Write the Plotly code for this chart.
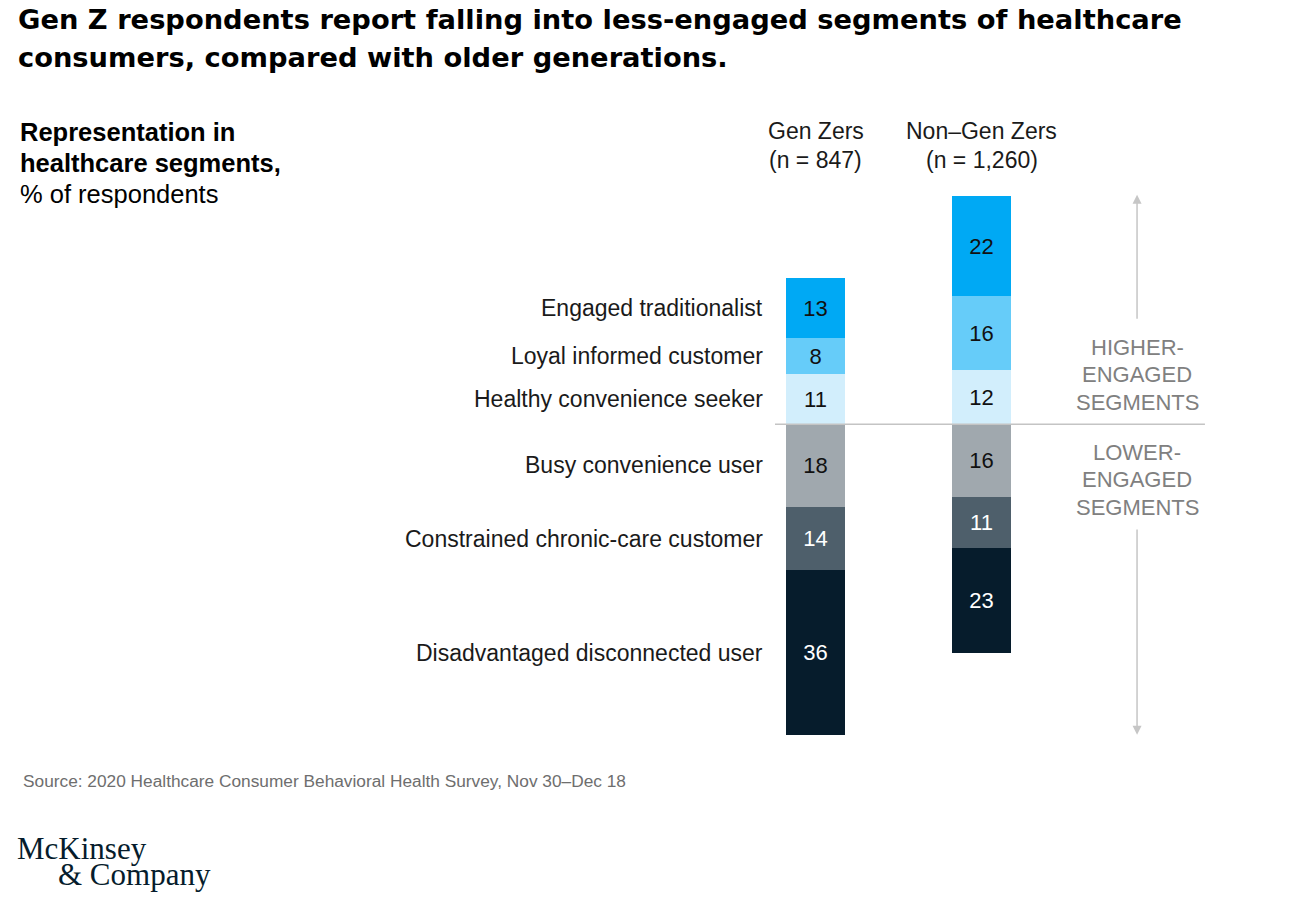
import plotly.graph_objects as go

# data
segments = [
    "Healthy convenience seeker",
    "Loyal informed customer",
    "Engaged traditionalist",
    "Busy convenience user",
    "Constrained chronic-care customer",
    "Disadvantaged disconnected user",
]
higher = [True, True, True, False, False, False]
gen_z = [11, 8, 13, 18, 14, 36]
non_gen_z = [12, 16, 22, 16, 11, 23]
groups = ["Gen Zers<br>(n = 847)", "Non\u2013Gen Zers<br>(n = 1,260)"]
colors = ["#D2EEFC", "#66CCF9", "#00A9F4", "#A0A8AE", "#4E5F6B", "#061C2C"]
text_colors = ["#111111", "#111111", "#111111", "#111111", "#FFFFFF", "#FFFFFF"]

# page has an 8px body margin, so the figure is a bit smaller than the window
OFF = 8
W, H = 1278, 885
M = dict(l=0, r=0, t=188, b=149)
FONT = "Liberation Sans"


def px(x):
    return (x - OFF) / W


def py(y):
    return (H - M["b"] - (y - OFF)) / (H - M["t"] - M["b"])


fig = go.Figure()
for i, seg in enumerate(segments):
    sign = 1 if higher[i] else -1
    vals = [gen_z[i], non_gen_z[i]]
    fig.add_trace(go.Bar(
        x=[0, 1], y=[sign * v for v in vals],
        text=[str(v) for v in vals], textposition="inside",
        insidetextanchor="middle", textangle=0,
        textfont=dict(size=22, color=text_colors[i], family=FONT),
        marker=dict(color=colors[i], line=dict(width=0)),
        width=0.355, name=seg, showlegend=False, hoverinfo="skip",
    ))

annotations = []

# segment labels next to the Gen Z bar
cum_pos, cum_neg = 0, 0
for i, seg in enumerate(segments):
    if higher[i]:
        mid = cum_pos + gen_z[i] / 2
        cum_pos += gen_z[i]
    else:
        mid = -(cum_neg + gen_z[i] / 2)
        cum_neg += gen_z[i]
    annotations.append(dict(
        x=-0.1775, y=mid, xref="x", yref="y", xanchor="right", yanchor="middle",
        xshift=-21, text=seg, showarrow=False,
        font=dict(size=23, color="#1a1a1a", family=FONT)))

# column headers
for j, g in enumerate(groups):
    a, b = g.split("<br>")
    annotations.append(dict(x=j, y=py(131), xref="x", yref="paper", text=a, showarrow=False,
                            yanchor="middle", font=dict(size=23, color="#1a1a1a", family=FONT)))
    annotations.append(dict(x=j, y=py(160), xref="x", yref="paper", text=b, showarrow=False,
                            yanchor="middle", font=dict(size=23, color="#1a1a1a", family=FONT)))

# engagement side text
grey = "#808080"
for k, t in enumerate(["HIGHER-", "ENGAGED", "SEGMENTS"]):
    annotations.append(dict(x=1.937, y=py(347 + 27.5 * k), xref="x", yref="paper", text=t,
                            showarrow=False, yanchor="middle",
                            font=dict(size=22, color=grey, family=FONT)))
for k, t in enumerate(["LOWER-", "ENGAGED", "SEGMENTS"]):
    annotations.append(dict(x=1.937, y=py(452 + 27.5 * k), xref="x", yref="paper", text=t,
                            showarrow=False, yanchor="middle",
                            font=dict(size=22, color=grey, family=FONT)))

# arrows
annotations.append(dict(x=1.937, y=50.3, ax=1.937, ay=22.8, xref="x", yref="y",
                        axref="x", ayref="y", text="", showarrow=True, arrowhead=2,
                        arrowsize=1.2, arrowwidth=1.5, arrowcolor="#c6c6c6"))
annotations.append(dict(x=1.937, y=-68, ax=1.937, ay=-22.7, xref="x", yref="y",
                        axref="x", ayref="y", text="", showarrow=True, arrowhead=2,
                        arrowsize=1.2, arrowwidth=1.5, arrowcolor="#c6c6c6"))

# title
for k, t in enumerate(["Gen Z respondents report falling into less-engaged segments of healthcare",
                       "consumers, compared with older generations."]):
    annotations.append(dict(x=px(17), y=py(20 + 38 * k), xref="paper", yref="paper", text="<b>%s</b>" % t,
                            showarrow=False, xanchor="left", yanchor="middle", borderpad=0,
                            font=dict(size=27.3, color="#000000", family="DejaVu Sans")))

# subtitle
for k, t in enumerate(["<b>Representation in</b>", "<b>healthcare segments,</b>", "% of respondents"]):
    annotations.append(dict(x=px(18), y=py(132 + 31 * k), xref="paper", yref="paper", text=t,
                            showarrow=False, xanchor="left", yanchor="middle",
                            font=dict(size=25.5, color="#000000", family=FONT)))

# source
annotations.append(dict(x=px(21), y=py(781), xref="paper", yref="paper",
                        text="Source: 2020 Healthcare Consumer Behavioral Health Survey, Nov 30\u2013Dec 18",
                        showarrow=False, xanchor="left", yanchor="middle",
                        font=dict(size=17.3, color="#6e6e6e", family=FONT)))

# logo
annotations.append(dict(x=px(16), y=py(848), xref="paper", yref="paper", text="McKinsey",
                        showarrow=False, xanchor="left", yanchor="middle", borderpad=0,
                        font=dict(size=31, color="#061C2C", family="Liberation Serif")))
annotations.append(dict(x=px(57), y=py(893), xref="paper", yref="paper", text="&amp; Company",
                        showarrow=False, xanchor="left", yanchor="bottom", borderpad=0,
                        font=dict(size=31, color="#061C2C", family="Liberation Serif")))

fig.update_layout(
    width=W, height=H, margin=M,
    barmode="relative", bargap=0,
    plot_bgcolor="white", paper_bgcolor="white",
    xaxis=dict(range=[-4.8645, 2.8343], visible=False, fixedrange=True),
    yaxis=dict(range=[-70, 50], visible=False, fixedrange=True),
    annotations=annotations,
    shapes=[dict(type="line", xref="x", yref="y", x0=-0.244, x1=2.346, y0=0, y1=0,
                 line=dict(color="#c4c4c4", width=1.5), layer="above")],
)

fig.write_html("out.html")
